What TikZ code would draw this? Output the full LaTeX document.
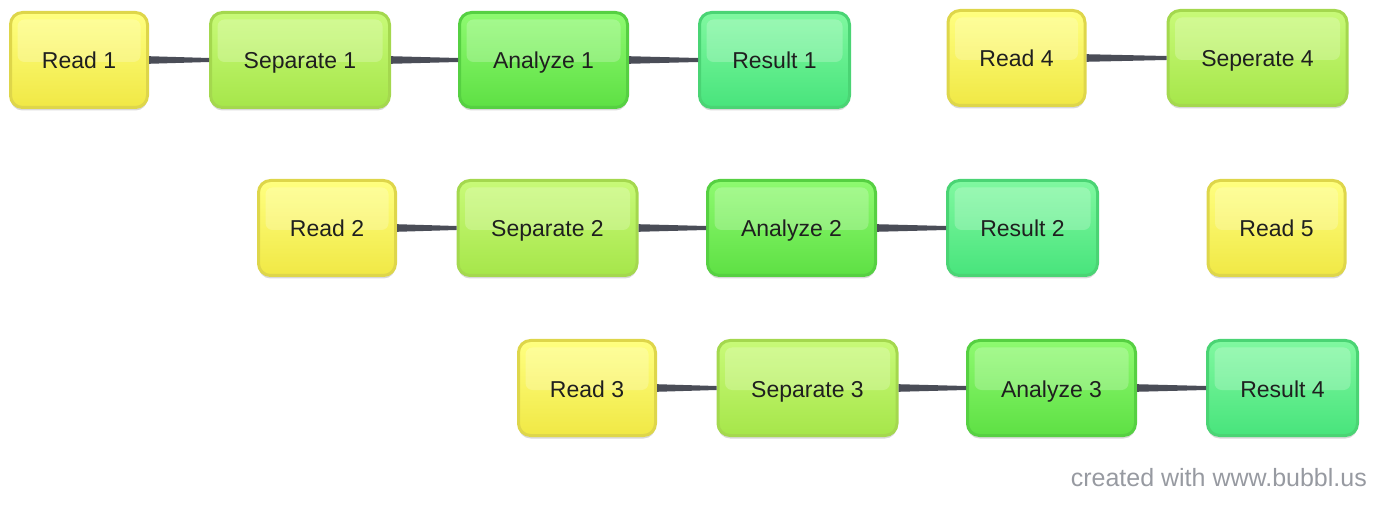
\documentclass[tikz,border=0pt]{standalone}
\usepackage{fontspec}
\setmainfont{Liberation Sans}
\usetikzlibrary{shadows}
\definecolor{rdT}{HTML}{FFFF80}\definecolor{rdB}{HTML}{F0E845}\definecolor{rdD}{HTML}{DED64A}
\definecolor{spT}{HTML}{C8FA78}\definecolor{spB}{HTML}{A6E64A}\definecolor{spD}{HTML}{A4D84E}
\definecolor{anT}{HTML}{8EFA70}\definecolor{anB}{HTML}{5EE044}\definecolor{anD}{HTML}{56D042}
\definecolor{rsT}{HTML}{80F8A0}\definecolor{rsB}{HTML}{48E47C}\definecolor{rsD}{HTML}{4AD474}
\definecolor{conncol}{HTML}{4A4D57}
\definecolor{credit}{HTML}{979AA1}
\tikzset{
  bub/.style={rounded corners=12pt, line width=3pt, minimum height=95pt,
    font=\fontsize{23}{28}\selectfont, text=black!88, text height=18pt, text depth=0pt,
    drop shadow={shadow xshift=0pt, shadow yshift=-3pt, opacity=0.15, fill=black},
    path picture={\fill[white,opacity=0.22,rounded corners=7pt]
      ([shift={(7pt,-7pt)}]path picture bounding box.north west) rectangle
      ([shift={(-7pt,-2pt)}]path picture bounding box.east);}},
  readbox/.style={bub, draw=rdD, top color=rdT, bottom color=rdB, minimum width=137pt},
  sepbox/.style={bub, draw=spD, top color=spT, bottom color=spB, minimum width=179pt},
  anabox/.style={bub, draw=anD, top color=anT, bottom color=anB, minimum width=168pt},
  resbox/.style={bub, draw=rsD, top color=rsT, bottom color=rsB, minimum width=150pt},
  conn/.style={fill=conncol}
}
\newcommand{\taper}[2]{\fill[conn] ([yshift=3.8pt]#1.east) -- ([yshift=2pt]#2.west) -- ([yshift=-2pt]#2.west) -- ([yshift=-3.8pt]#1.east) -- cycle;}
\begin{document}
\begin{tikzpicture}[x=1pt,y=-1pt]
\useasboundingbox (0,0) rectangle (1386,510);
% row 1
\node[readbox] (r1) at (79,60) {Read 1};
\node[sepbox] (s1) at (300,60) {Separate 1};
\node[anabox] (a1) at (543.5,60) {Analyze 1};
\node[resbox] (e1) at (774.5,60) {Result 1};
\node[readbox] (r4) at (1016.5,58) {Read 4};
\node[sepbox] (s4) at (1257.5,58) {Seperate 4};
% row 2
\node[readbox] (r2) at (327,228) {Read 2};
\node[sepbox] (s2) at (547.5,228) {Separate 2};
\node[anabox] (a2) at (791.5,228) {Analyze 2};
\node[resbox] (e2) at (1022.5,228) {Result 2};
\node[readbox] (r5) at (1276.5,228) {Read 5};
% row 3
\node[readbox] (r3) at (587,388) {Read 3};
\node[sepbox] (s3) at (807.5,388) {Separate 3};
\node[anabox] (a3) at (1051.5,388) {Analyze 3};
\node[resbox] (e4) at (1282.5,388) {Result 4};
% connectors
\taper{r1}{s1}\taper{s1}{a1}\taper{a1}{e1}
\taper{r4}{s4}
\taper{r2}{s2}\taper{s2}{a2}\taper{a2}{e2}
\taper{r3}{s3}\taper{s3}{a3}\taper{a3}{e4}
\node[anchor=base east, text=credit, font=\fontsize{25}{30}\selectfont, inner sep=0pt] (credit) at (1367,486) {created with www.bubbl.us};
\end{tikzpicture}
\end{document}
